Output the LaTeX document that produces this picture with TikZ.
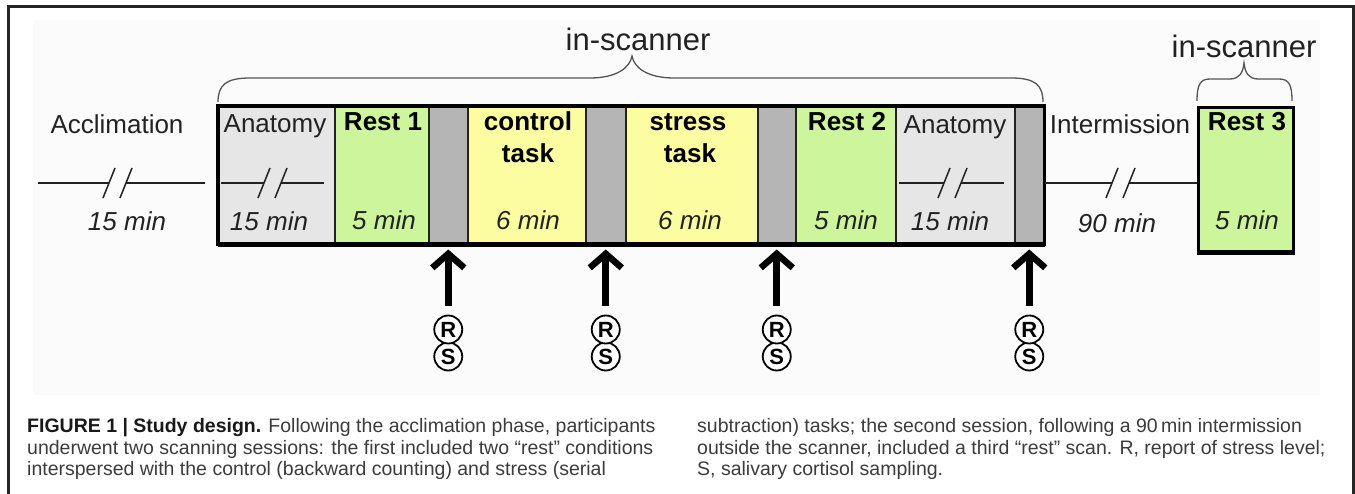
\documentclass[tikz,border=0pt]{standalone}
\usepackage{fontspec}
\setmainfont{Liberation Sans}
\usetikzlibrary{arrows.meta,calc}
\definecolor{anatC}{HTML}{E6E6E6}
\definecolor{restC}{HTML}{CCF59C}
\definecolor{taskC}{HTML}{FCFCA0}
\definecolor{barC}{HTML}{B5B5B5}
\definecolor{bgC}{HTML}{FBFBFB}
\definecolor{capC}{HTML}{3C3C3C}
\definecolor{lineC}{HTML}{222222}
\definecolor{braceC}{HTML}{555555}
\begin{document}
\begin{tikzpicture}[x=1pt,y=-1pt,
  seg/.style={draw=lineC, line width=1.5pt, minimum height=137pt, inner sep=0pt, anchor=north west},
  lbl/.style={anchor=base, inner sep=0pt, text=lineC, font=\fontsize{26}{30}\selectfont},
  blbl/.style={anchor=base, inner sep=0pt, text=black, font=\fontsize{26}{30}\selectfont\bfseries},
  ilbl/.style={anchor=base, inner sep=0pt, text=lineC, font=\fontsize{26}{30}\selectfont\itshape},
  tl/.style={draw=lineC, line width=1.5pt},
  brace/.style={draw=braceC, line width=1.3pt},
  insc/.style={anchor=base, inner sep=0pt, text=lineC, font=\fontsize{31}{36}\selectfont},
  rs/.style={circle, draw=black, line width=1.8pt, minimum size=28pt, inner sep=0pt, fill=white, font=\fontsize{22}{24}\selectfont\bfseries},
  bigarrow/.style={draw=black, line width=7pt, -{Straight Barb[length=14pt,width=32pt,line width=6.5pt]}, shorten <=9pt, shorten >=5pt},
  captxt/.style={anchor=base west, inner sep=0pt, text=capC, font=\fontsize{19.5}{22}\selectfont}
]
\useasboundingbox (0,0) rectangle (1355,494);
\fill[white] (0,0) rectangle (1355,494);
\fill[bgC] (33,20) rectangle (1320,395);
\draw[line width=3pt, black!85] (8,494) -- (8,7) -- (1353,7) -- (1353,494);

% in-scanner session 1 segments
\node[seg, fill=anatC, minimum width=116pt] (an1) at (218,106) {};
\node[seg, fill=restC, minimum width=94pt] (re1) at (334,106) {};
\node[seg, fill=barC, minimum width=39pt] (g1) at (428,106) {};
\node[seg, fill=taskC, minimum width=118pt] (ct) at (467,106) {};
\node[seg, fill=barC, minimum width=40pt] (g2) at (585,106) {};
\node[seg, fill=taskC, minimum width=132pt] (st) at (625,106) {};
\node[seg, fill=barC, minimum width=38pt] (g3) at (757,106) {};
\node[seg, fill=restC, minimum width=100pt] (re2) at (795,106) {};
\node[seg, fill=anatC, minimum width=119pt] (an2) at (895,106) {};
\node[seg, fill=barC, minimum width=29pt] (g4) at (1014,106) {};
\draw[line width=3.5pt] (an1.north west) rectangle (g4.south east);
\draw[line width=5pt] (an1.south west) -- (g4.south east);

% session 2
\node[seg, fill=restC, minimum width=95pt, minimum height=144pt, line width=3pt, draw=black] (re3) at (1197,106) {};
\draw[line width=5pt] (re3.south west) -- (re3.south east);

% labels
\node[lbl] (accl) at (117,134) {Acclimation};
\node[ilbl] (accm) at (127,231) {15 min};
\node[lbl] (anl1) at (275,133) {Anatomy};
\node[ilbl] (anm1) at (269,231) {15 min};
\node[blbl] (rel1) at (383,131) {Rest 1};
\node[ilbl] (rem1) at (384,230) {5 min};
\node[blbl] (ctl1) at (528,131) {control};
\node[blbl] (ctl2) at (528,163) {task};
\node[ilbl] (ctm) at (528,230) {6 min};
\node[blbl] (stl1) at (688,131) {stress};
\node[blbl] (stl2) at (690,163) {task};
\node[ilbl] (stm) at (690,230) {6 min};
\node[blbl] (rel2) at (847,131) {Rest 2};
\node[ilbl] (rem2) at (846,230) {5 min};
\node[lbl] (anl2) at (955,134) {Anatomy};
\node[ilbl] (anm2) at (950,231) {15 min};
\node[lbl] (intl) at (1120,134) {Intermission};
\node[ilbl] (intm) at (1117,233) {90 min};
\node[blbl] (rel3) at (1247,131) {Rest 3};
\node[ilbl] (rem3) at (1247,230) {5 min};

% timelines with breaks
\draw[tl] (38,183) -- (109,183);
\draw[tl] (126,183) -- (205,183);
\draw[tl] (103,198) -- (115,168);
\draw[tl] (120,198) -- (132,168);

\draw[tl] (221,183) -- (264,183);
\draw[tl] (281,183) -- (324,183);
\draw[tl] (258,198) -- (270,168);
\draw[tl] (275,198) -- (287,168);

\draw[tl] (899,183) -- (944,183);
\draw[tl] (961,183) -- (1004,183);
\draw[tl] (938,198) -- (950,168);
\draw[tl] (955,198) -- (967,168);

\coordinate (intA) at (1045,183);
\coordinate (intB) at (re3.west |- intA);
\draw[tl] (intA) -- (1112,183);
\draw[tl] (1129,183) -- (intB);
\draw[tl] (1106,198) -- (1118,168);
\draw[tl] (1123,198) -- (1135,168);

% braces
\node[insc] (insc1) at (638,51) {in-scanner};
\draw[brace] (218,102) .. controls (218,85) and (226,78) .. (250,78) -- (590,78)
  .. controls (616,78) and (630,68) .. (632,56)
  .. controls (634,68) and (648,78) .. (674,78) -- (1011,78)
  .. controls (1035,78) and (1043,85) .. (1043,102);
\node[insc] (insc2) at (1244,58) {in-scanner};
\draw[brace] (1197,101) .. controls (1197,85) and (1200,79) .. (1210,79) -- (1230,79)
  .. controls (1239,79) and (1243,73) .. (1244,63)
  .. controls (1245,73) and (1249,79) .. (1258,79) -- (1279,79)
  .. controls (1289,79) and (1292,85) .. (1292,101);

% R / S markers
\foreach \g/\i in {g1/1, g2/2, g3/3, g4/4} {
  \node[rs] (s\i) at ($(\g.south)+(0,112)$) {S};
  \node[rs] (r\i) at ($(\g.south)+(0,85)$) {R};
  \draw[bigarrow] (r\i.north) -- (\g.south);
}

% caption
\node[captxt] (c1) at (27,432) {\textbf{\color{black!90}FIGURE 1 | Study design.} Following the acclimation phase, participants};
\node[captxt] (c2) at (27,454) {underwent two scanning sessions: the first included two “rest” conditions};
\node[captxt] (c3) at (27,475) {interspersed with the control (backward counting) and stress (serial};
\node[captxt] (c4) at (697,432) {subtraction) tasks; the second session, following a 90\,min intermission};
\node[captxt] (c5) at (697,454) {outside the scanner, included a third “rest” scan. R, report of stress level;};
\node[captxt] (c6) at (697,475) {S, salivary cortisol sampling.};
\end{tikzpicture}
\end{document}
